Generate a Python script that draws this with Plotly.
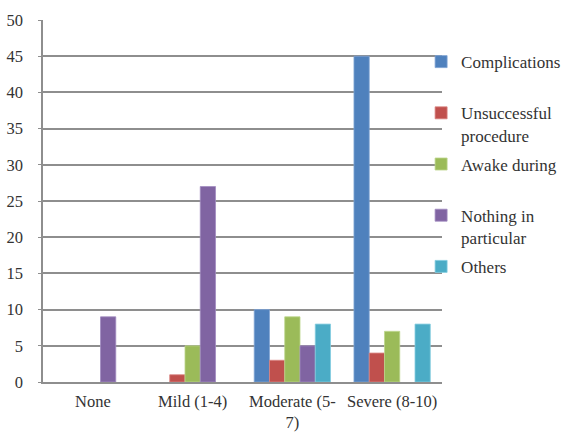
import plotly.graph_objects as go

categories = ["None", "Mild (1-4)", "Moderate (5-<br>7)", "Severe (8-10)"]

series_names = ["Complications<br> ", "Unsuccessful<br>procedure", "Awake during<br> ",
                "Nothing in<br>particular", "Others<br> "]
complications = [None, None, 10, 45]
unsuccessful = [None, 1, 3, 4]
awake_during = [None, 5, 9, 7]
nothing_in_particular = [9, 27, 5, None]
others = [None, None, 8, 8]

series_values = [complications, unsuccessful, awake_during, nothing_in_particular, others]
colors = ["#4F81BD", "#C0504D", "#9BBB59", "#8064A2", "#4BACC6"]
outlines = ["#7FA3D3", "#D98482", "#BCD68C", "#A18BC0", "#83CDE0"]

y_ticks = [0, 5, 10, 15, 20, 25, 30, 35, 40, 45, 50]

font_family = "Liberation Serif, DejaVu Serif, serif"
text_color = "#333333"
font_size = 16.5

fig = go.Figure()
for i, (name, vals) in enumerate(zip(series_names, series_values)):
    fig.add_trace(go.Bar(
        x=categories,
        y=vals,
        name=name,
        legendgroup=f"g{i}",
        marker=dict(color=colors[i], line=dict(color=outlines[i], width=0.8)),
    ))

grid_color = "#8E8E8E"

fig.update_layout(
    width=566,
    height=432,
    margin=dict(l=43, r=124, t=20, b=50, autoexpand=False),
    paper_bgcolor="white",
    plot_bgcolor="white",
    barmode="group",
    bargap=0.235,
    bargroupgap=0,
    font=dict(family=font_family, size=font_size, color=text_color),
    showlegend=True,
    legend=dict(
        x=0.744, xanchor="left", xref="container",
        y=0.898, yanchor="top", yref="container",
        valign="top",
        itemwidth=30,
        traceorder="grouped",
        tracegroupgap=4,
        maxheight=1,
        font=dict(family=font_family, size=17, color=text_color),
        bgcolor="rgba(0,0,0,0)",
    ),
    xaxis=dict(
        showgrid=False,
        showline=True,
        linecolor=grid_color,
        linewidth=1.5,
        ticks="",
        automargin=False,
        ticklabelstandoff=3,
        tickfont=dict(family=font_family, size=font_size, color=text_color),
    ),
    yaxis=dict(
        range=[0, 50],
        tickvals=y_ticks,
        showgrid=True,
        gridcolor=grid_color,
        gridwidth=1.5,
        showline=True,
        linecolor=grid_color,
        linewidth=1.5,
        mirror=False,
        ticks="outside",
        ticklen=3,
        tickcolor=grid_color,
        ticklabelstandoff=12,
        zeroline=False,
        automargin=False,
        tickfont=dict(family=font_family, size=font_size, color=text_color),
    ),
)

fig.write_html("out.html")
